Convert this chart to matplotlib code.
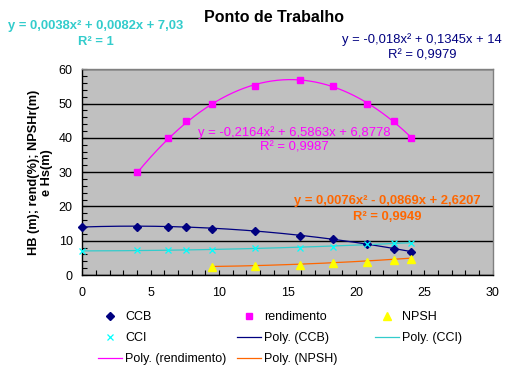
import numpy as np
import matplotlib
matplotlib.use("Agg")
import matplotlib.pyplot as plt
from matplotlib.ticker import MultipleLocator

plt.rcParams['font.family'] = ['Liberation Sans', 'DejaVu Sans']

# ---- data ----
x_vals = [0, 4, 6.3, 7.6, 9.5, 12.6, 15.9, 18.3, 20.8, 22.8, 24]
ccb = [14, 14, 14, 13.9, 13.5, 12.8, 11.5, 10.5, 9.1, 7.7, 6.6]
ccI = [7.1, 7.2, 7.2, 7.2, 7.3, 7.8, 7.9, 8.3, 8.9, 9.3, 9.3]
rend_x = [4, 6.3, 7.6, 9.5, 12.6, 15.9, 18.3, 20.8, 22.8, 24]
rend = [30, 40, 45, 50, 55, 57, 55, 50, 45, 40]
npsh_x = [9.5, 12.6, 15.9, 18.3, 20.8, 22.8, 24]
npsh = [2.2, 2.7, 3.0, 3.4, 3.9, 4.5, 4.8]

# trendline coefficients (as printed on chart): a x^2 + b x + c
coef_ccb = [-0.018, 0.1345, 14]
coef_cci = [0.0038, 0.0082, 7.03]
coef_rend = [-0.2164, 6.5863, 6.8778]
coef_npsh = [0.0076, -0.0869, 2.6207]

eq_ccb = "y = -0,018x² + 0,1345x + 14\nR² = 0,9979"
eq_cci = "y = 0,0038x² + 0,0082x + 7,03\nR² = 1"
eq_rend = "y = -0,2164x² + 6,5863x + 6,8778\nR² = 0,9987"
eq_npsh = "y = 0,0076x² - 0,0869x + 2,6207\nR² = 0,9949"

title = "Ponto de Trabalho"
ylabel = "HB (m); rend(%); NPSHr(m)\ne Hs(m)"
x_ticks = [0, 5, 10, 15, 20, 25, 30]
y_ticks = [0, 10, 20, 30, 40, 50, 60]

# ---- colors ----
c_ccb = "#000080"
c_rend = "#FF00FF"
c_npsh_m = "#FFFF00"
c_npsh_l = "#FF6600"
c_cci_m = "#00FFFF"
c_cci_l = "#33CCCC"

W, H = 518, 376
fig = plt.figure(figsize=(W / 100, H / 100), dpi=100)
ax = fig.add_axes([82.3 / W, 1 - 275 / H, (492.7 - 82.3) / W, (275 - 69.3) / H])
ax.set_facecolor("#C0C0C0")

def trend(xs, coef, color):
    xx = np.linspace(min(xs), max(xs), 200)
    yy = np.polyval(coef, xx)
    return ax.plot(xx, yy, color=color, lw=0.9, zorder=3)[0]

l_ccb = trend(x_vals, coef_ccb, c_ccb)
l_cci = trend(x_vals, coef_cci, c_cci_l)
l_rend = trend(rend_x, coef_rend, c_rend)
l_npsh = trend(npsh_x, coef_npsh, c_npsh_l)

m_ccb, = ax.plot(x_vals, ccb, ls='none', marker='D', ms=3.8, color=c_ccb, zorder=4, clip_on=False)
m_rend, = ax.plot(rend_x, rend, ls='none', marker='s', ms=4.4, color=c_rend, zorder=4, clip_on=False)
m_npsh, = ax.plot(npsh_x, npsh, ls='none', marker='^', ms=5.5, color=c_npsh_m, zorder=4, clip_on=False)
m_cci, = ax.plot(x_vals, ccI, ls='none', marker='x', ms=3.8, mew=0.9, color=c_cci_m, zorder=4, clip_on=False)

ax.set_xlim(0, 30)
ax.set_ylim(0, 60)
ax.set_xticks(x_ticks)
ax.set_yticks(y_ticks)
ax.xaxis.set_minor_locator(MultipleLocator(1))
ax.yaxis.set_minor_locator(MultipleLocator(2))
ax.yaxis.grid(True, which='major', color='black', lw=1)
ax.set_axisbelow(True)
ax.tick_params(which='both', direction='in', length=3.5, width=0.8, colors='black',
               top=False, right=False, labelsize=9)
ax.tick_params(axis='x', which='both', pad=9)
ax.tick_params(axis='y', which='both', pad=7)
for s in ['left', 'bottom']:
    ax.spines[s].set_color('black')
    ax.spines[s].set_linewidth(1)
for s in ['top', 'right']:
    ax.spines[s].set_color('#808080')
    ax.spines[s].set_linewidth(1)

ax.set_ylabel(ylabel, fontsize=9.2, fontweight='bold', linespacing=1.05,
              va='center', ha='center')
ax.yaxis.set_label_coords((40.5 - 82.3) / 410.4, 0.5)

# equations
ax.text(15.5, 39.4, eq_rend, color=c_rend, fontsize=9.4, ha='center', va='center',
        linespacing=1.36, zorder=5)
ax.text(22.3, 19.3, eq_npsh, color=c_npsh_l, fontsize=9.4, fontweight='bold',
        ha='center', va='center', linespacing=1.45, zorder=5)
fig.text(96 / W, 1 - 34.2 / H, eq_cci, color=c_cci_l, fontsize=9.4, fontweight='bold',
         ha='center', va='center', linespacing=1.5)
fig.text(422 / W, 1 - 47 / H, eq_ccb, color=c_ccb, fontsize=9.4,
         ha='center', va='center', linespacing=1.42)
fig.text(273.5 / W, 1 - 18 / H, title, fontsize=11.5, fontweight='bold',
         ha='center', va='center')

# legend: three columns
cols = [
    ([m_ccb, m_cci, l_rend], ["CCB", "CCI", "Poly. (rendimento)"], 98),
    ([m_rend, l_ccb, l_npsh], ["rendimento", "Poly. (CCB)", "Poly. (NPSH)"], 237),
    ([m_npsh, l_cci], ["NPSH", "Poly. (CCI)"], 375),
]
for hs, ls, xp in cols:
    fig.legend(hs, ls, loc='upper left', bbox_to_anchor=(xp / W, 1 - 311 / H),
               frameon=False, fontsize=9, handlelength=1.9, handletextpad=0.25,
               labelspacing=0.72, borderpad=0, borderaxespad=0, numpoints=1)

fig.savefig("out.png", dpi=100)
